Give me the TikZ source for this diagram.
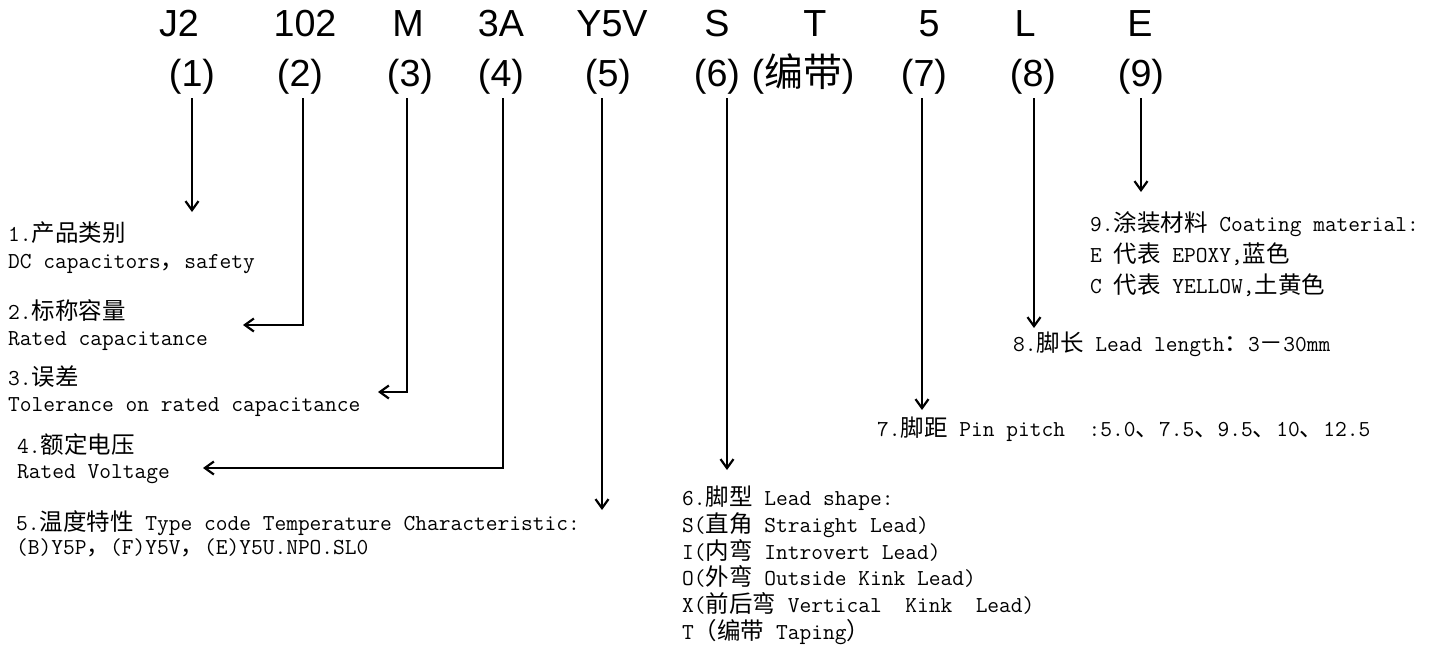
\documentclass[tikz,border=0pt]{standalone}
\usepackage{fontspec}
\usetikzlibrary{arrows.meta}
\setmainfont{Liberation Sans}
\newfontfamily\cjkfont{Noto Sans CJK SC}[Scale=1.03]
\newcommand\zh[1]{{\cjkfont #1}}

\begin{document}
\begin{tikzpicture}[x=1pt,y=-1pt,
   code/.style={font=\fontsize{37.7}{40}\selectfont,anchor=base,inner sep=4pt},
   lbl/.style={font=\ttfamily\fontsize{22.8}{#1}\selectfont,anchor=north west,inner sep=0pt,align=left},
   lbl/.default=26,
   arr/.style={line width=2.2pt,-{Straight Barb[length=9pt,width=13pt]}}]
   \useasboundingbox (0,0) rectangle (1433,646);

   % part number
   \node[code] (k1) at (179,36) {J2};
   \node[code] (k2) at (305,36) {102};
   \node[code] (k3) at (408,36) {M};
   \node[code] (k4) at (501,36) {3A};
   \node[code] (k5) at (612,36) {Y5V};
   \node[code] (k6) at (717,36) {S};
   \node[code] (kT) at (815,36) {T};
   \node[code] (k7) at (929,36) {5};
   \node[code] (k8) at (1025,36) {L};
   \node[code] (k9) at (1140,36) {E};

   \node[code] (c1) at (192,86) {(1)};
   \node[code] (c2) at (300,86) {(2)};
   \node[code] (c3) at (410,86) {(3)};
   \node[code] (c4) at (501,86) {(4)};
   \node[code] (c5) at (608,86) {(5)};
   \node[code] (c6) at (717,86) {(6)};
   \node[code] (cT) at (803,86) {(\zh{编带})};
   \node[code] (c7) at (924,86) {(7)};
   \node[code] (c8) at (1033,86) {(8)};
   \node[code] (c9) at (1141,86) {(9)};

   % explanations
   \node[lbl=27] (l1) at (8,222) {1.\zh{产品类别}\\DC capacitors\zh{，}safety};
   \node[lbl] (l2) at (8,299) {2.\zh{标称容量}\\Rated capacitance};
   \node[lbl] (l3) at (8,366) {3.\zh{误差}\\Tolerance on rated capacitance};
   \node[lbl=25] (l4) at (17,433) {4.\zh{额定电压}\\Rated Voltage};
   \node[lbl=24] (l5) at (16,510) {5.\zh{温度特性} Type code Temperature Characteristic:\\(B)Y5P\zh{，}(F)Y5V\zh{，}(E)Y5U.NPO.SL0};
   \node[lbl=26.7] (l6) at (682,486) {6.\zh{脚型} Lead shape:\\S(\zh{直角} Straight Lead)\\I(\zh{内弯} Introvert Lead)\\O(\zh{外弯} Outside Kink Lead)\\X(\zh{前后弯} Vertical\ \ Kink\ \ Lead)\\T\zh{（编带} Taping\zh{）}};
   \node[lbl] (l7) at (877,417) {7.\zh{脚距} Pin pitch\ \ :5.0\zh{、}7.5\zh{、}9.5\zh{、}10\zh{、}12.5};
   \node[lbl] (l8) at (1013,332) {8.\zh{脚长} Lead length\zh{：}3\zh{－}30mm};
   \node[lbl=31] (l9) at (1090,211) {9.\zh{涂装材料} Coating material:\\E \zh{代表} EPOXY,\zh{蓝色}\\C \zh{代表} YELLOW,\zh{土黄色}};

   % arrow ends
   \coordinate (t1) at (192,212);
   \coordinate (t2) at (243,325);
   \coordinate (t3) at (378,392);
   \coordinate (t4) at (203,468);
   \coordinate (t5) at (602,510);
   \coordinate (t6) at (727,470);
   \coordinate (t7) at (922,410);
   \coordinate (t8) at (1034,328);
   \coordinate (t9) at (1141,192);

   \draw[arr] (c1.south -| t1) -- (t1);
   \draw[arr] (c2.south -| 303,0) |- (t2);
   \draw[arr] (c3.south -| 407,0) |- (t3);
   \draw[arr] (c4.south -| 503,0) |- (t4);
   \draw[arr] (c5.south -| t5) -- (t5);
   \draw[arr] (c6.south -| t6) -- (t6);
   \draw[arr] (c7.south -| t7) -- (t7);
   \draw[arr] (c8.south -| t8) -- (t8);
   \draw[arr] (c9.south -| t9) -- (t9);
\end{tikzpicture}
\end{document}
